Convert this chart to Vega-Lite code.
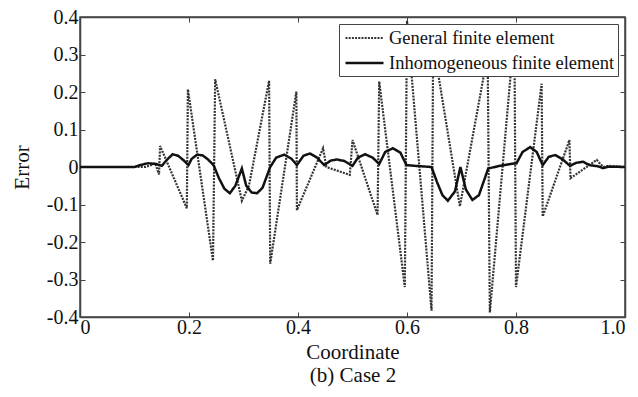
{
  "$schema": "https://vega.github.io/schema/vega-lite/v6.json",
  "autosize": "none",
  "width": 545,
  "height": 300,
  "padding": {"left": 80, "top": 17, "right": 13, "bottom": 80},
  "background": "white",
  "config": {
    "font": "Liberation Serif, Times New Roman, serif",
    "view": {"stroke": "#444", "strokeWidth": 1.5},
    "axis": {"labelFont": "Liberation Serif, Times New Roman, serif", "titleFont": "Liberation Serif, Times New Roman, serif", "labelColor": "#111", "titleColor": "#111", "titleFontWeight": "normal", "grid": false, "domainColor": "#444", "domainWidth": 1.5, "tickColor": "#444", "tickWidth": 1},
    "legend": {"labelFont": "Liberation Serif, Times New Roman, serif"}
  },
  "data": {
    "values": [
      {"x": 0, "y": 0, "series": "General finite element"},
      {"x": 0.12, "y": 0, "series": "General finite element"},
      {"x": 0.13, "y": 0.005, "series": "General finite element"},
      {"x": 0.138, "y": 0.01, "series": "General finite element"},
      {"x": 0.145, "y": -0.02, "series": "General finite element"},
      {"x": 0.147, "y": 0.056, "series": "General finite element"},
      {"x": 0.196, "y": -0.11, "series": "General finite element"},
      {"x": 0.198, "y": 0.207, "series": "General finite element"},
      {"x": 0.244, "y": -0.25, "series": "General finite element"},
      {"x": 0.248, "y": 0.234, "series": "General finite element"},
      {"x": 0.297, "y": -0.09, "series": "General finite element"},
      {"x": 0.31, "y": -0.05, "series": "General finite element"},
      {"x": 0.347, "y": 0.23, "series": "General finite element"},
      {"x": 0.349, "y": -0.258, "series": "General finite element"},
      {"x": 0.397, "y": 0.201, "series": "General finite element"},
      {"x": 0.398, "y": -0.115, "series": "General finite element"},
      {"x": 0.446, "y": 0.05, "series": "General finite element"},
      {"x": 0.452, "y": 0.0, "series": "General finite element"},
      {"x": 0.495, "y": -0.021, "series": "General finite element"},
      {"x": 0.5, "y": 0.072, "series": "General finite element"},
      {"x": 0.546, "y": -0.128, "series": "General finite element"},
      {"x": 0.549, "y": 0.228, "series": "General finite element"},
      {"x": 0.596, "y": -0.32, "series": "General finite element"},
      {"x": 0.6, "y": 0.39, "series": "General finite element"},
      {"x": 0.645, "y": -0.383, "series": "General finite element"},
      {"x": 0.648, "y": 0.33, "series": "General finite element"},
      {"x": 0.697, "y": -0.105, "series": "General finite element"},
      {"x": 0.748, "y": 0.3, "series": "General finite element"},
      {"x": 0.752, "y": -0.388, "series": "General finite element"},
      {"x": 0.797, "y": 0.36, "series": "General finite element"},
      {"x": 0.8, "y": -0.32, "series": "General finite element"},
      {"x": 0.847, "y": 0.222, "series": "General finite element"},
      {"x": 0.849, "y": -0.132, "series": "General finite element"},
      {"x": 0.898, "y": 0.072, "series": "General finite element"},
      {"x": 0.9, "y": -0.03, "series": "General finite element"},
      {"x": 0.948, "y": 0.019, "series": "General finite element"},
      {"x": 0.96, "y": 0.0, "series": "General finite element"},
      {"x": 0.97, "y": 0.003, "series": "General finite element"},
      {"x": 1.0, "y": 0, "series": "General finite element"},

      {"x": 0, "y": 0, "series": "Inhomogeneous finite element"},
      {"x": 0.1, "y": 0, "series": "Inhomogeneous finite element"},
      {"x": 0.11, "y": 0.005, "series": "Inhomogeneous finite element"},
      {"x": 0.125, "y": 0.01, "series": "Inhomogeneous finite element"},
      {"x": 0.14, "y": 0.008, "series": "Inhomogeneous finite element"},
      {"x": 0.15, "y": 0.003, "series": "Inhomogeneous finite element"},
      {"x": 0.16, "y": 0.02, "series": "Inhomogeneous finite element"},
      {"x": 0.17, "y": 0.034, "series": "Inhomogeneous finite element"},
      {"x": 0.18, "y": 0.03, "series": "Inhomogeneous finite element"},
      {"x": 0.19, "y": 0.018, "series": "Inhomogeneous finite element"},
      {"x": 0.199, "y": 0.005, "series": "Inhomogeneous finite element"},
      {"x": 0.205, "y": 0.022, "series": "Inhomogeneous finite element"},
      {"x": 0.215, "y": 0.033, "series": "Inhomogeneous finite element"},
      {"x": 0.225, "y": 0.031, "series": "Inhomogeneous finite element"},
      {"x": 0.235, "y": 0.02, "series": "Inhomogeneous finite element"},
      {"x": 0.245, "y": 0.005, "series": "Inhomogeneous finite element"},
      {"x": 0.255, "y": -0.03, "series": "Inhomogeneous finite element"},
      {"x": 0.265, "y": -0.058, "series": "Inhomogeneous finite element"},
      {"x": 0.275, "y": -0.07, "series": "Inhomogeneous finite element"},
      {"x": 0.285, "y": -0.05, "series": "Inhomogeneous finite element"},
      {"x": 0.297, "y": -0.004, "series": "Inhomogeneous finite element"},
      {"x": 0.305, "y": -0.05, "series": "Inhomogeneous finite element"},
      {"x": 0.315, "y": -0.068, "series": "Inhomogeneous finite element"},
      {"x": 0.325, "y": -0.07, "series": "Inhomogeneous finite element"},
      {"x": 0.335, "y": -0.055, "series": "Inhomogeneous finite element"},
      {"x": 0.349, "y": 0.0, "series": "Inhomogeneous finite element"},
      {"x": 0.36, "y": 0.025, "series": "Inhomogeneous finite element"},
      {"x": 0.375, "y": 0.033, "series": "Inhomogeneous finite element"},
      {"x": 0.388, "y": 0.022, "series": "Inhomogeneous finite element"},
      {"x": 0.398, "y": 0.005, "series": "Inhomogeneous finite element"},
      {"x": 0.41, "y": 0.03, "series": "Inhomogeneous finite element"},
      {"x": 0.422, "y": 0.036, "series": "Inhomogeneous finite element"},
      {"x": 0.435, "y": 0.025, "series": "Inhomogeneous finite element"},
      {"x": 0.448, "y": 0.005, "series": "Inhomogeneous finite element"},
      {"x": 0.46, "y": 0.017, "series": "Inhomogeneous finite element"},
      {"x": 0.471, "y": 0.02, "series": "Inhomogeneous finite element"},
      {"x": 0.485, "y": 0.016, "series": "Inhomogeneous finite element"},
      {"x": 0.5, "y": 0.003, "series": "Inhomogeneous finite element"},
      {"x": 0.51, "y": 0.025, "series": "Inhomogeneous finite element"},
      {"x": 0.523, "y": 0.034, "series": "Inhomogeneous finite element"},
      {"x": 0.537, "y": 0.025, "series": "Inhomogeneous finite element"},
      {"x": 0.549, "y": 0.008, "series": "Inhomogeneous finite element"},
      {"x": 0.56, "y": 0.04, "series": "Inhomogeneous finite element"},
      {"x": 0.574, "y": 0.05, "series": "Inhomogeneous finite element"},
      {"x": 0.588, "y": 0.038, "series": "Inhomogeneous finite element"},
      {"x": 0.599, "y": 0.005, "series": "Inhomogeneous finite element"},
      {"x": 0.615, "y": 0.003, "series": "Inhomogeneous finite element"},
      {"x": 0.645, "y": 0.0, "series": "Inhomogeneous finite element"},
      {"x": 0.655, "y": -0.04, "series": "Inhomogeneous finite element"},
      {"x": 0.665, "y": -0.075, "series": "Inhomogeneous finite element"},
      {"x": 0.675, "y": -0.09, "series": "Inhomogeneous finite element"},
      {"x": 0.688, "y": -0.065, "series": "Inhomogeneous finite element"},
      {"x": 0.698, "y": 0.0, "series": "Inhomogeneous finite element"},
      {"x": 0.708, "y": -0.06, "series": "Inhomogeneous finite element"},
      {"x": 0.72, "y": -0.088, "series": "Inhomogeneous finite element"},
      {"x": 0.732, "y": -0.075, "series": "Inhomogeneous finite element"},
      {"x": 0.749, "y": -0.004, "series": "Inhomogeneous finite element"},
      {"x": 0.77, "y": 0.003, "series": "Inhomogeneous finite element"},
      {"x": 0.79, "y": 0.008, "series": "Inhomogeneous finite element"},
      {"x": 0.801, "y": 0.01, "series": "Inhomogeneous finite element"},
      {"x": 0.812, "y": 0.04, "series": "Inhomogeneous finite element"},
      {"x": 0.826, "y": 0.053, "series": "Inhomogeneous finite element"},
      {"x": 0.838, "y": 0.04, "series": "Inhomogeneous finite element"},
      {"x": 0.849, "y": 0.005, "series": "Inhomogeneous finite element"},
      {"x": 0.86, "y": 0.027, "series": "Inhomogeneous finite element"},
      {"x": 0.872, "y": 0.032, "series": "Inhomogeneous finite element"},
      {"x": 0.886, "y": 0.02, "series": "Inhomogeneous finite element"},
      {"x": 0.899, "y": 0.003, "series": "Inhomogeneous finite element"},
      {"x": 0.91, "y": 0.011, "series": "Inhomogeneous finite element"},
      {"x": 0.923, "y": 0.014, "series": "Inhomogeneous finite element"},
      {"x": 0.935, "y": 0.005, "series": "Inhomogeneous finite element"},
      {"x": 0.95, "y": 0.002, "series": "Inhomogeneous finite element"},
      {"x": 0.96, "y": -0.003, "series": "Inhomogeneous finite element"},
      {"x": 0.97, "y": 0.001, "series": "Inhomogeneous finite element"},
      {"x": 1.0, "y": 0, "series": "Inhomogeneous finite element"}
    ]
  },
  "layer": [
    {
      "mark": {"type": "line", "strokeCap": "butt", "strokeJoin": "miter"},
      "encoding": {
        "x": {"field": "x", "type": "quantitative", "scale": {"domain": [0, 1], "nice": false},
          "axis": {"orient": "bottom", "values": [0, 0.2, 0.4, 0.6, 0.8, 1.0], "tickSize": -5, "labelPadding": 5, "labelFontSize": 20, "labelFont": "Liberation Serif", "titleFont": "Liberation Serif", "labelExpr": "datum.value == 0 ? '0' : format(datum.value, '.1f')",
            "title": ["Coordinate", "(b) Case 2"], "titleFontSize": 21, "titleLineHeight": 23, "titlePadding": 4}},
        "y": {"field": "y", "type": "quantitative", "scale": {"domain": [-0.4, 0.4], "nice": false},
          "axis": {"orient": "left", "values": [-0.4, -0.3, -0.2, -0.1, 0, 0.1, 0.2, 0.3, 0.4], "tickSize": -5, "labelPadding": 7, "labelFontSize": 20, "labelFont": "Liberation Serif", "titleFont": "Liberation Serif", "labelExpr": "datum.value == 0 ? '0' : toString(round(datum.value*10)/10)",
            "title": "Error", "titleFontSize": 21, "titlePadding": 14}},
        "color": {"field": "series", "type": "nominal", "scale": {"domain": ["General finite element", "Inhomogeneous finite element"], "range": ["#333333", "#111111"]},
          "legend": {"title": null, "orient": "top-right", "offset": 7, "fillColor": "white", "strokeColor": "#444", "padding": 3, "labelFontSize": 18.5, "labelFont": "Liberation Serif", "labelColor": "#111", "symbolType": "M-2,0H2", "symbolSize": 361, "symbolOffset": 11.5, "symbolStrokeWidth": 2.5, "rowPadding": 4, "labelOffset": 13.5, "labelLimit": 400}},
        "strokeDash": {"field": "series", "type": "nominal", "scale": {"domain": ["General finite element", "Inhomogeneous finite element"], "range": [[2, 1.2], [1, 0]]}},
        "strokeWidth": {"field": "series", "type": "nominal", "scale": {"domain": ["General finite element", "Inhomogeneous finite element"], "range": [2.2, 2.5]}, "legend": null}
      }
    },
    {
      "mark": {"type": "line", "opacity": 0},
      "encoding": {
        "x": {"field": "x", "type": "quantitative",
          "axis": {"orient": "top", "values": [0, 0.2, 0.4, 0.6, 0.8, 1.0], "tickSize": -5, "labels": false, "title": null}},
        "y": {"field": "y", "type": "quantitative",
          "axis": {"orient": "right", "values": [-0.4, -0.3, -0.2, -0.1, 0, 0.1, 0.2, 0.3, 0.4], "tickSize": -5, "labels": false, "title": null}},
        "detail": {"field": "series"}
      }
    }
  ],
  "resolve": {"axis": {"x": "independent", "y": "independent"}}
}
